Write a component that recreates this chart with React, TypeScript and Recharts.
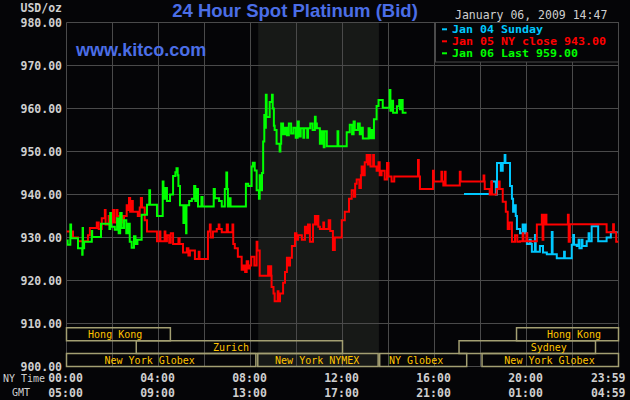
import React from 'react'
import { LineChart, Line, XAxis, YAxis, CartesianGrid, ReferenceArea, ReferenceDot } from 'recharts'

// [minutes after 00:00 New York time, bid USD/oz]
const jan04Sunday: [number, number][] = [
  [1037, 940.1], [1110, 943.0], [1120, 940.0], [1123, 947.3], [1133, 945.5], [1138, 947.3], [1143, 949.2],
  [1145, 947.3], [1157, 942.0], [1162, 939.0], [1165, 936.0], [1170, 937.5], [1172, 935.0], [1175, 932.0],
  [1183, 931.0], [1190, 933.0], [1192, 931.0], [1196, 933.0], [1198, 931.0], [1201, 928.5], [1208, 929.5],
  [1211, 928.5], [1214, 926.7], [1222, 930.6], [1224, 926.7], [1235, 928.0], [1243, 926.5], [1253, 926.1],
  [1266, 931.3], [1268, 926.1], [1279, 925.2], [1298, 926.7], [1300, 925.2], [1318, 928.3], [1322, 930.6],
  [1324, 928.3], [1331, 928.0], [1336, 929.5], [1338, 927.5], [1344, 929.5], [1346, 928.0], [1357, 929.1],
  [1362, 931.0], [1364, 929.1], [1370, 932.6], [1387, 929.1], [1409, 930.0], [1420, 931.2], [1438, 931.2],
]

const jan05: [number, number][] = [
  [0, 931.4], [17, 930.0], [30, 929.1], [56, 930.5], [61, 932.2], [79, 933.5], [84, 932.0], [92, 934.5],
  [100, 936.4], [102, 933.0], [110, 935.0], [115, 933.5], [121, 936.4], [124, 933.5], [130, 936.4], [133, 935.0],
  [145, 933.5], [150, 935.0], [157, 937.5], [160, 936.4], [163, 939.2], [166, 936.0], [170, 938.5], [173, 936.0],
  [186, 935.0], [191, 937.0], [194, 939.2], [197, 937.0], [204, 934.0], [210, 931.4], [236, 929.1], [243, 931.4],
  [245, 929.1], [256, 931.4], [258, 929.1], [262, 930.5], [268, 928.8], [272, 931.0], [278, 928.5], [292, 929.8],
  [295, 928.5], [304, 926.5], [314, 927.5], [318, 925.8], [322, 927.0], [335, 925.0], [345, 926.7], [347, 925.0],
  [369, 931.4], [374, 933.0], [376, 930.0], [382, 931.4], [392, 932.0], [397, 933.0], [399, 932.0], [405, 931.2],
  [418, 933.0], [421, 931.2], [433, 933.0], [435, 928.5], [439, 927.5], [447, 925.5], [457, 922.5], [462, 923.5],
  [466, 922.0], [470, 924.5], [474, 922.8], [478, 923.5], [482, 925.5], [490, 923.5], [496, 929.0], [498, 927.0],
  [504, 921.1], [526, 923.3], [528, 921.1], [532, 923.3], [534, 921.1], [535, 918.5], [540, 917.0], [543, 915.2],
  [551, 917.5], [553, 915.2], [557, 917.0], [565, 919.5], [570, 922.0], [575, 925.3], [580, 923.5], [583, 925.3],
  [588, 928.0], [596, 931.0], [600, 929.5], [604, 930.5], [614, 929.5], [622, 932.5], [627, 931.0], [630, 933.0],
  [635, 929.0], [643, 933.0], [648, 935.0], [650, 933.0], [655, 935.0], [657, 932.5], [661, 932.0], [670, 933.5],
  [672, 932.0], [684, 934.0], [688, 931.5], [695, 927.1], [700, 930.0], [718, 934.0], [726, 936.0], [737, 939.0],
  [744, 941.0], [750, 939.5], [753, 942.5], [757, 943.5], [764, 941.5], [768, 944.5], [770, 946.5], [775, 944.5],
  [778, 947.5], [783, 949.2], [786, 947.0], [790, 949.2], [793, 946.5], [800, 949.2], [802, 946.5], [809, 945.5],
  [814, 947.5], [817, 944.5], [822, 945.5], [830, 943.5], [836, 947.3], [840, 944.2], [848, 943.0], [855, 944.2],
  [917, 948.0], [919, 944.2], [922, 941.3], [956, 945.5], [958, 943.0], [978, 945.3], [980, 943.0], [983, 942.1],
  [987, 945.3], [989, 942.1], [1026, 945.3], [1028, 943.0], [1088, 944.4], [1090, 943.0], [1091, 941.3],
  [1104, 940.0], [1108, 943.0], [1110, 940.0], [1122, 941.3], [1128, 943.0], [1130, 941.3], [1138, 938.3],
  [1146, 936.0], [1151, 932.0], [1156, 933.5], [1162, 929.0], [1170, 930.5], [1176, 929.0], [1183, 929.1],
  [1190, 931.0], [1192, 929.1], [1200, 931.0], [1202, 929.1], [1227, 933.0], [1240, 935.3], [1242, 929.5],
  [1244, 935.3], [1247, 933.0], [1250, 935.3], [1252, 933.0], [1308, 935.3], [1310, 929.0], [1313, 933.1],
  [1409, 931.2], [1426, 933.1], [1428, 931.2], [1434, 929.0], [1440, 929.0],
]

const jan06: [number, number][] = [
  [0, 929.3], [3, 928.3], [10, 933.0], [12, 929.8], [30, 927.5], [41, 926.0], [42, 932.2], [43, 927.5],
  [46, 929.0], [66, 931.5], [67, 930.1], [90, 933.2], [112, 932.0], [114, 935.7], [116, 932.5], [126, 931.8],
  [132, 934.5], [136, 931.0], [140, 935.7], [144, 932.2], [150, 934.0], [156, 931.0], [160, 933.2], [165, 929.0],
  [170, 927.6], [176, 930.3], [180, 928.5], [185, 929.5], [196, 935.3], [210, 937.6], [216, 941.0], [218, 937.6],
  [236, 935.0], [251, 943.0], [253, 939.0], [258, 941.5], [262, 938.5], [270, 940.0], [278, 944.3], [284, 945.2],
  [287, 946.1], [290, 944.5], [292, 942.0], [296, 937.5], [305, 933.4], [307, 937.5], [312, 931.0], [313, 937.5],
  [320, 938.5], [327, 939.0], [333, 942.0], [336, 938.5], [341, 941.3], [343, 937.2], [352, 939.4], [355, 937.2],
  [384, 941.3], [387, 939.1], [398, 938.5], [405, 937.2], [413, 941.3], [417, 945.1], [419, 941.3], [421, 937.2],
  [425, 939.1], [428, 937.2], [468, 942.5], [474, 942.0], [483, 946.5], [486, 947.4], [491, 945.6], [496, 941.0],
  [502, 939.0], [504, 944.5], [507, 941.0], [510, 945.0], [513, 952.3], [516, 958.5], [518, 955.5], [520, 963.2],
  [522, 958.0], [530, 961.5], [536, 963.2], [538, 960.0], [541, 956.0], [543, 955.0], [548, 951.8], [556, 950.0],
  [558, 951.8], [560, 956.5], [565, 954.0], [570, 955.5], [575, 953.8], [580, 956.5], [586, 954.2], [592, 955.5],
  [598, 953.2], [603, 957.0], [606, 953.5], [611, 955.4], [618, 953.2], [620, 955.4], [628, 953.2], [630, 955.4],
  [636, 956.5], [642, 955.0], [648, 958.1], [650, 956.5], [653, 955.4], [661, 951.8], [666, 954.7], [671, 951.0],
  [673, 954.7], [679, 951.2], [707, 954.7], [709, 951.2], [731, 954.5], [739, 956.2], [745, 954.0], [749, 957.0],
  [752, 955.0], [760, 956.5], [765, 954.0], [770, 955.5], [773, 953.0], [788, 955.4], [791, 953.1], [796, 955.0],
  [800, 953.1], [802, 957.5], [809, 960.6], [814, 962.0], [825, 960.2], [843, 964.3], [845, 959.5], [850, 961.8],
  [852, 959.0], [862, 960.5], [868, 962.0], [870, 959.8], [875, 962.0], [877, 959.0], [887, 959.0],
]

const priceTicks = [900, 910, 920, 930, 940, 950, 960, 970, 980]
const gridMinutes = [0, 120, 240, 360, 480, 600, 720, 840, 960, 1080, 1200, 1320, 1440]
const labelMinutes = [0, 240, 480, 720, 960, 1200, 1440]
const nyTimeLabels = ['00:00', '04:00', '08:00', '12:00', '16:00', '20:00', '23:59']
const gmtLabels = ['05:00', '09:00', '13:00', '17:00', '21:00', '01:00', '04:59']

const legendLabels = ['Jan 04 Sunday', 'Jan 05 NY close 943.00', 'Jan 06 Last 959.00']

// NYMEX floor session, shaded
const nymexOpen = 500
const nymexClose = 815

// market sessions: [name, start, end, row, label at]
const sessions: [string, number, number, number, number][] = [
  ['Hong Kong', 0, 271, 0, 127],
  ['Hong Kong', 1174, 1440, 0, 1324],
  ['Zurich', 182, 720, 1, 429],
  ['Sydney', 1024, 1380, 1, 1258],
  ['New York Globex', 0, 494, 2, 217],
  ['New York NYMEX', 499, 813, 2, 654],
  ['NY Globex', 817, 1044, 2, 912],
  ['New York Globex', 1084, 1440, 2, 1260],
]

const BG = '#050507'
const GRID = '#4a4a4a'
const SHADE = '#171917'
const TEXT = '#cfcfcf'
const BLUE = '#4b6ee6'
const BOX = '#a39f72'
const BOX_TEXT = '#ffc400'
const CYAN = '#00c8ff'
const RED = '#ff0000'
const GREEN = '#00ff00'
const MONO = '"DejaVu Sans Mono", monospace'
const SANS = '"Liberation Sans", Arial, sans-serif'

const rowTop = [909, 906, 903]

const toPoints = (rows: [number, number][]) => rows.map(([t, v]) => ({ t, v }))

const YTick = ({ y, payload }: any) => (
  <text x={62} y={y} textAnchor="end" dominantBaseline="central" fill={TEXT}
    fontFamily={MONO} fontSize={11.5} fontWeight="bold">
    {Number(payload.value).toFixed(2)}
  </text>
)

const XTick = ({ x, payload }: any) => {
  const i = labelMinutes.indexOf(payload.value)
  if (i < 0) return <g />
  const last = i === labelMinutes.length - 1
  const tx = last ? x + 7 : x - 1
  const anchor = last ? 'end' : 'middle'
  const common = { fill: TEXT, fontFamily: MONO, fontSize: 11.5, fontWeight: 'bold' as const, dominantBaseline: 'central' as const }
  return (
    <g>
      <text x={tx} y={378} textAnchor={anchor} {...common}>{nyTimeLabels[i]}</text>
      <text x={tx} y={392.5} textAnchor={anchor} {...common}>{gmtLabels[i]}</text>
    </g>
  )
}

export default function App() {
  const legendColors = [CYAN, RED, GREEN]
  return (
    <div style={{ position: 'fixed', left: 0, top: 0, width: 630, height: 400, background: BG, overflow: 'hidden' }}>
      <LineChart width={630} height={400} margin={{ top: 22.5, right: 11.5, bottom: 0, left: 0 }}>
        <ReferenceArea x1={nymexOpen} x2={nymexClose} y1={900} y2={980} fill={SHADE} fillOpacity={1}
          stroke="none" zIndex={-200} />
        <CartesianGrid stroke={GRID} strokeWidth={1} />
        <XAxis type="number" dataKey="t" domain={[0, 1440]} ticks={gridMinutes} interval={0}
          height={33.5} axisLine={false} tickLine={false} tick={<XTick />} allowDataOverflow />
        <YAxis type="number" domain={[900, 980]} ticks={priceTicks} interval={0} width={66.5}
          axisLine={false} tickLine={false} tick={<YTick />} allowDataOverflow />
        {sessions.map(([name, start, end, row], i) => (
          <ReferenceArea key={'box' + i} x1={start} x2={end} y1={rowTop[row] - 3} y2={rowTop[row]}
            fill="none" fillOpacity={0} stroke={BOX} strokeWidth={1.5} ifOverflow="visible" />
        ))}
        {sessions.map(([name, , , row, at], i) => (
          <ReferenceDot key={'lbl' + i} x={at} y={rowTop[row] - 1.5} r={0} fill="none" stroke="none"
            label={{ value: name, position: 'center', fill: BOX_TEXT, fontSize: 10, fontFamily: MONO }} />
        ))}
        <Line data={toPoints(jan04Sunday)} dataKey="v" type="stepAfter" stroke={CYAN} strokeWidth={2}
          dot={false} isAnimationActive={false} />
        <Line data={toPoints(jan05)} dataKey="v" type="stepAfter" stroke={RED} strokeWidth={2}
          dot={false} isAnimationActive={false} />
        <Line data={toPoints(jan06)} dataKey="v" type="stepAfter" stroke={GREEN} strokeWidth={2}
          dot={false} isAnimationActive={false} />
      </LineChart>
      <svg width={630} height={400} style={{ position: 'absolute', left: 0, top: 0, pointerEvents: 'none' }}>
        <text x={62} y={8} textAnchor="end" dominantBaseline="central" fill={TEXT} fontFamily={MONO}
          fontSize={11.5} fontWeight="bold">USD/oz</text>
        <text x={295} y={17} textAnchor="middle" fill={BLUE} fontFamily={SANS} fontSize={18.5}
          fontWeight="bold">24 Hour Spot Platinum (Bid)</text>
        <text x={76} y={56} fill={BLUE} fontFamily={SANS} fontSize={18} fontWeight="bold">www.kitco.com</text>
        <text x={455} y={15} dominantBaseline="central" fill={TEXT} fontFamily={MONO} fontSize={11.5}>
          January 06, 2009 14:47
        </text>
        <rect x={435.5} y={22.5} width={183} height={39.5} fill={BG} stroke={GRID} strokeWidth={1} />
        {legendLabels.map((label, i) => (
          <g key={label}>
            <rect x={442} y={28.3 + i * 12} width={5} height={2} fill={legendColors[i]} />
            <text x={452} y={29.3 + i * 12} dominantBaseline="central" fill={legendColors[i]}
              fontFamily={MONO} fontSize={11} fontWeight="bold" textLength={label.length * 7}
              lengthAdjust="spacingAndGlyphs">{label}</text>
          </g>
        ))}
        <text x={24} y={378} textAnchor="middle" dominantBaseline="central" fill={TEXT} fontFamily={MONO}
          fontSize={10}>NY Time</text>
        <text x={21} y={392.5} textAnchor="middle" dominantBaseline="central" fill={TEXT} fontFamily={MONO}
          fontSize={10}>GMT</text>
      </svg>
    </div>
  )
}
